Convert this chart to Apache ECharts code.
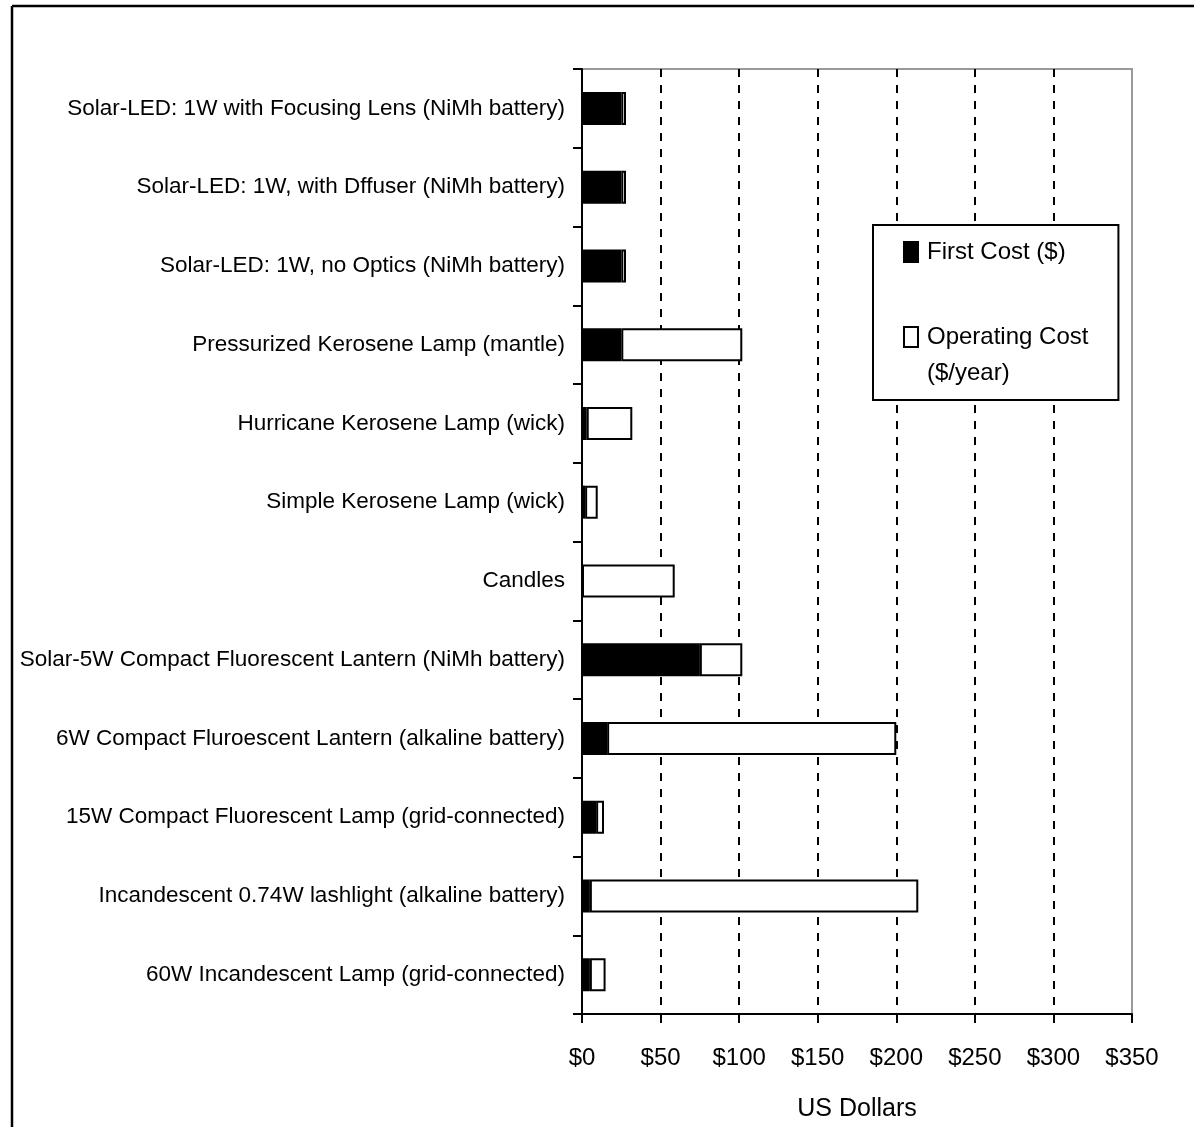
<!DOCTYPE html>
<html>
<head>
<meta charset="utf-8">
<script src="https://cdn.jsdelivr.net/npm/echarts@6/dist/echarts.min.js"></script>
<style>
html,body{margin:0;padding:0;background:#fff;}
#chart{width:1194px;height:1127px;}
</style>
</head>
<body>
<div id="chart"></div>
<script>
// ---- data (top to bottom) ----
const categories = [
  'Solar-LED: 1W with Focusing Lens (NiMh battery)',
  'Solar-LED: 1W, with Dffuser (NiMh battery)',
  'Solar-LED: 1W, no Optics (NiMh battery)',
  'Pressurized Kerosene Lamp (mantle)',
  'Hurricane Kerosene Lamp (wick)',
  'Simple Kerosene Lamp (wick)',
  'Candles',
  'Solar-5W Compact Fluorescent Lantern (NiMh battery)',
  '6W Compact Fluroescent Lantern (alkaline battery)',
  '15W Compact Fluorescent Lamp (grid-connected)',
  'Incandescent 0.74W lashlight (alkaline battery)',
  '60W Incandescent Lamp (grid-connected)'
];
const firstCost     = [25, 25, 25, 25, 3, 2, 0, 75, 16, 9, 5, 5];
const operatingCost = [3, 3, 3, 77, 29, 8, 59, 27, 184, 5, 209, 10];
const seriesNames = ['First Cost ($)', 'Operating Cost ($/year)'];
const legendLabels = ['First Cost ($)', '\nOperating Cost\n($/year)'];
const xMin = 0, xMax = 350, xStep = 50;
const xAxisTitle = 'US Dollars';

const FONT = '"Liberation Sans", Arial, sans-serif';

const chart = echarts.init(document.getElementById('chart'), null, {renderer: 'canvas'});
chart.setOption({
  backgroundColor: '#ffffff',
  animation: false,
  textStyle: {fontFamily: FONT, color: '#000'},
  graphic: [
    {type: 'line', shape: {x1: 12, y1: 6, x2: 1194, y2: 6}, style: {stroke: '#000', lineWidth: 2.5}},
    {type: 'line', shape: {x1: 12, y1: 6, x2: 12, y2: 1127}, style: {stroke: '#000', lineWidth: 2.5}}
  ],
  grid: {
    left: 582, right: 62, top: 69, bottom: 112,
    show: true, borderColor: '#999', borderWidth: 2, backgroundColor: 'transparent'
  },
  legend: {
    orient: 'vertical',
    left: 873, top: 225,
    padding: [9, 30, 9, 30],
    itemGap: 13,
    icon: 'rect',
    itemWidth: 14, itemHeight: 20,
    backgroundColor: '#fff',
    borderColor: '#000', borderWidth: 2,
    borderRadius: 0,
    selectedMode: false,
    textStyle: {fontFamily: FONT, fontSize: 24, color: '#000', lineHeight: 36, padding: [0, 0, 0, 4]},
    formatter: function (n) { return legendLabels[seriesNames.indexOf(n)]; },
    data: seriesNames
  },
  xAxis: {
    type: 'value',
    min: xMin, max: xMax, interval: xStep,
    name: xAxisTitle,
    nameLocation: 'middle',
    nameGap: 83,
    nameTextStyle: {fontFamily: FONT, fontSize: 25, color: '#000'},
    axisLine: {show: true, lineStyle: {color: '#000', width: 2}},
    axisTick: {show: true, length: 9, lineStyle: {color: '#000', width: 2}},
    axisLabel: {
      margin: 32, fontFamily: FONT, fontSize: 24, color: '#000',
      formatter: function (v) { return '$' + v; }
    },
    splitLine: {show: true, showMinLine: false, showMaxLine: false,
      lineStyle: {color: '#000', width: 2, type: [8, 8]}}
  },
  yAxis: {
    type: 'category',
    data: categories,
    inverse: true,
    axisLine: {show: true, lineStyle: {color: '#000', width: 2}},
    axisTick: {show: true, length: 9, alignWithLabel: false, lineStyle: {color: '#000', width: 2}},
    axisLabel: {margin: 17, fontFamily: FONT, fontSize: 22.5, color: '#000'},
    splitLine: {show: false}
  },
  series: [
    {
      name: seriesNames[0], type: 'bar', stack: 'cost', data: firstCost, barWidth: 33,
      itemStyle: {color: '#000', borderColor: '#000', borderWidth: 2}
    },
    {
      name: seriesNames[1], type: 'bar', stack: 'cost', data: operatingCost, barWidth: 33,
      itemStyle: {color: '#fff', borderColor: '#000', borderWidth: 2}
    }
  ]
});
</script>
</body>
</html>
